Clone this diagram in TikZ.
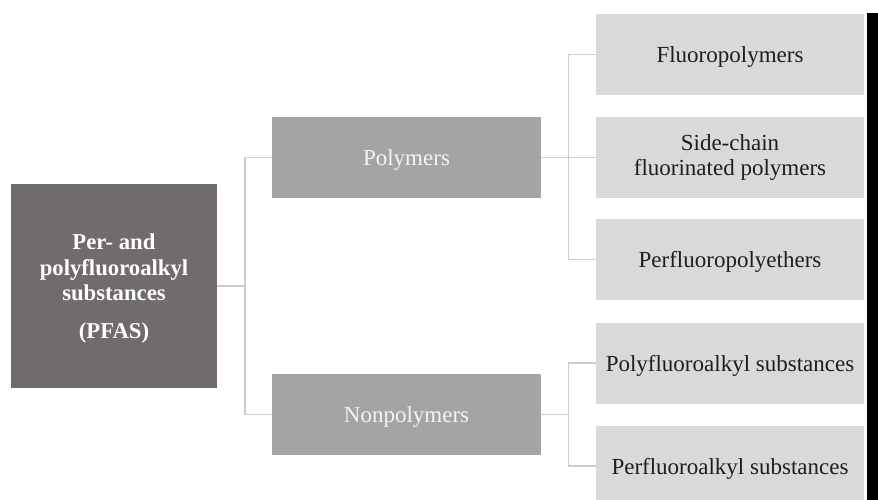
\documentclass[tikz,border=0pt]{standalone}
\usepackage{fontspec}
\setmainfont{Liberation Serif}
\definecolor{darkbox}{HTML}{706C6B}
\definecolor{midbox}{HTML}{A4A4A4}
\definecolor{lightbox}{HTML}{D9D9D9}
\definecolor{linecol}{HTML}{CDCDCD}
\definecolor{darktext}{HTML}{1E1E1E}
\definecolor{whitetext}{HTML}{F4F4F4}
\begin{document}
\begin{tikzpicture}[x=1pt,y=-1pt,
  basebox/.style={rectangle, inner sep=0pt, align=center, font=\fontsize{23}{25}\selectfont},
  lowtext/.style={text depth=0pt},
  rootbox/.style={basebox, lowtext, fill=darkbox, text=white, minimum width=206pt, minimum height=204pt, font=\fontsize{22.7}{25.5}\selectfont\bfseries},
  midnode/.style={basebox, lowtext, fill=midbox, text=whitetext, minimum width=269pt, minimum height=81pt},
  leafbox/.style={basebox, fill=lightbox, text=darktext, minimum width=268pt, minimum height=81pt},
  conn/.style={draw=linecol, line width=1.5pt}
]
\useasboundingbox (0,0) rectangle (878,500);
% boxes
\node[rootbox] (pfas) at (114,286) {Per- and\\polyfluoroalkyl\\substances\\[12pt](PFAS)};
\node[midnode] (poly) at (406.5,157.5) {Polymers};
\node[midnode] (nonpoly) at (406.5,414.5) {Nonpolymers};
\node[leafbox, lowtext] (fluoro) at (730,54.5) {Fluoropolymers};
\node[leafbox] (side) at (730,157.5) {Side-chain\\fluorinated polymers};
\node[leafbox, lowtext] (pfpe) at (730,259.5) {Perfluoropolyethers};
\node[leafbox, lowtext] (polyfa) at (730,363) {Polyfluoroalkyl substances};
\node[leafbox, lowtext, minimum height=80pt] (perfa) at (730,466) {Perfluoroalkyl substances};
% black bar
\fill[black] (867,13) rectangle (878,500);
% junctions
\coordinate (j1) at (245,286);
\coordinate (j2) at (568.5,157.5);
\coordinate (j3) at (568.5,414.5);
% connectors
\draw[conn] (pfas.east) -- (j1);
\draw[conn] (poly.west) -| (j1);
\draw[conn] (nonpoly.west) -| (j1);
\draw[conn] (poly.east) -- (j2);
\draw[conn] (fluoro.west) -| (j2);
\draw[conn] (side.west) -- (j2);
\draw[conn] (pfpe.west) -| (j2);
\draw[conn] (nonpoly.east) -- (j3);
\draw[conn] (polyfa.west) -| (j3);
\draw[conn] (perfa.west) -| (j3);
\end{tikzpicture}
\end{document}
